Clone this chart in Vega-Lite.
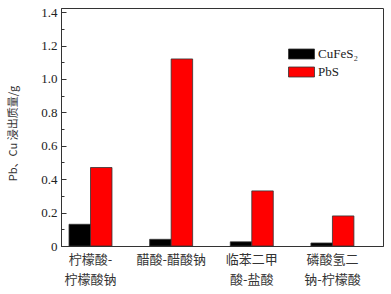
{
  "$schema": "https://vega.github.io/schema/vega-lite/v6.json",
  "width": 322,
  "height": 238,
  "autosize": {"type": "none"},
  "padding": {"left": 61, "top": 8, "right": 8, "bottom": 48},
  "background": "white",
  "data": {
    "values": [
      {"group": "柠檬酸-柠檬酸钠", "mineral": "CuFeS₂", "mass": 0.13},
      {"group": "柠檬酸-柠檬酸钠", "mineral": "PbS", "mass": 0.47},
      {"group": "醋酸-醋酸钠", "mineral": "CuFeS₂", "mass": 0.04},
      {"group": "醋酸-醋酸钠", "mineral": "PbS", "mass": 1.12},
      {"group": "临苯二甲酸-盐酸", "mineral": "CuFeS₂", "mass": 0.025},
      {"group": "临苯二甲酸-盐酸", "mineral": "PbS", "mass": 0.33},
      {"group": "磷酸氢二钠-柠檬酸", "mineral": "CuFeS₂", "mass": 0.018},
      {"group": "磷酸氢二钠-柠檬酸", "mineral": "PbS", "mass": 0.18}
    ]
  },
  "config": {
    "view": {"stroke": "#333", "strokeWidth": 1},
    "axis": {"grid": false, "domainColor": "#333", "tickColor": "#333"}
  },
  "layer": [
    {
      "mark": {"type": "bar", "stroke": "#333", "strokeWidth": 0.8},
      "encoding": {
        "x": {
          "field": "group", "type": "nominal", "sort": null,
          "scale": {"paddingInner": 0.467, "paddingOuter": 0.23, "align": 0.216},
          "axis": {
            "title": null, "ticks": false, "labelAngle": 0,
            "labelFont": "Noto Sans CJK SC", "labelFontSize": 13, "labelColor": "#333",
            "labelPadding": 7, "labelLineHeight": 20,
            "labelExpr": "datum.value == '柠檬酸-柠檬酸钠' ? ['柠檬酸-', '柠檬酸钠'] : datum.value == '临苯二甲酸-盐酸' ? ['临苯二甲', '酸-盐酸'] : datum.value == '磷酸氢二钠-柠檬酸' ? ['磷酸氢二', '钠-柠檬酸'] : datum.value"
          }
        },
        "xOffset": {"field": "mineral", "type": "nominal", "sort": ["CuFeS₂", "PbS"]},
        "y": {
          "field": "mass", "type": "quantitative",
          "scale": {"domain": [0, 1.425], "nice": false},
          "axis": {
            "title": "Pb、Cu 浸出质量/g",
            "titleFont": "Noto Sans CJK SC", "titleFontSize": 11, "titleFontWeight": "normal", "titleColor": "#333",
            "titleX": -43, "titleY": 125,
            "values": [0, 0.2, 0.4, 0.6, 0.8, 1.0, 1.2, 1.4],
            "labelExpr": "datum.value == 0 ? '0' : format(datum.value, '.1f')",
            "labelFont": "Liberation Serif", "labelFontSize": 13, "labelColor": "#222",
            "tickSize": -5, "labelPadding": 9
          }
        },
        "color": {
          "field": "mineral", "type": "nominal",
          "scale": {"domain": ["CuFeS₂", "PbS"], "range": ["#000000", "#ff0000"]},
          "legend": {
            "title": null, "orient": "none", "legendX": 230, "legendY": 35.5,
            "symbolType": "M-1.3,-0.5h2.6v1h-2.6z", "symbolSize": 400,
            "symbolStrokeColor": "#333", "symbolStrokeWidth": 0.8,
            "labelFont": "Liberation Serif", "labelFontSize": 13, "labelColor": "#222",
            "labelOffset": 6, "rowPadding": -1, "padding": 0
          }
        }
      }
    },
    {
      "mark": {"type": "tick", "opacity": 0},
      "encoding": {
        "y": {
          "field": "mass", "type": "quantitative",
          "scale": {"domain": [0, 1.425], "nice": false},
          "axis": {
            "orient": "left", "title": null, "labels": false, "domain": false,
            "values": [0.1, 0.3, 0.5, 0.7, 0.9, 1.1, 1.3],
            "tickSize": -3
          }
        }
      }
    }
  ],
  "resolve": {"scale": {"y": "independent"}}
}
